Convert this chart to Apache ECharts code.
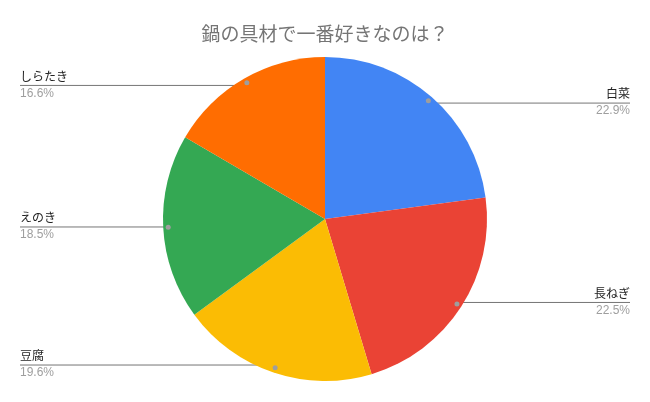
<!DOCTYPE html>
<html>
<head>
<meta charset="utf-8">
<script src="https://cdn.jsdelivr.net/npm/echarts@6/dist/echarts.min.js"></script>
<style>html,body{margin:0;padding:0;background:#fff;}#c{width:650px;height:402px;}</style>
</head>
<body>
<div id="c"></div>
<script>
const titleText = '鍋の具材で一番好きなのは？';
const categories = ['白菜', '長ねぎ', '豆腐', 'えのき', 'しらたき'];
const values = [22.9, 22.5, 19.6, 18.5, 16.6];
const colors = ['#4285F4', '#EA4335', '#FBBC04', '#34A853', '#FF6D01'];

const FONT = "'Liberation Sans', 'Noto Sans CJK JP', sans-serif";
const CENTER = [325, 219];
const R = 162;
const R_LABEL = 154;
const LEFT_EDGE = 20, RIGHT_EDGE = 630;

const data = categories.map((n, i) => ({ name: n, value: values[i] }));

const chart = echarts.init(document.getElementById('c'), null, { renderer: 'canvas' });
chart.setOption({
  animation: false,
  backgroundColor: '#fff',
  title: {
    text: titleText, left: 'center', top: 21,
    textStyle: { fontFamily: FONT, fontSize: 19, fontWeight: 'normal', color: '#757575' }
  },
  series: [
    {
      type: 'pie', center: CENTER, radius: R, startAngle: 90, clockwise: true,
      silent: true, color: colors,
      itemStyle: { borderWidth: 0 },
      label: { show: false }, labelLine: { show: false },
      data: data
    },
    {
      type: 'pie', center: CENTER, radius: R_LABEL, startAngle: 90, clockwise: true,
      silent: true, avoidLabelOverlap: false,
      itemStyle: { color: 'rgba(0,0,0,0)', borderWidth: 0 },
      label: {
        show: true, position: 'outer', alignTo: 'edge', edgeDistance: 20,
        formatter: '{n|{b}}\n{p|{c}%}',
        rich: {
          n: { fontFamily: FONT, fontSize: 12, color: '#222222', lineHeight: 16 },
          p: { fontFamily: FONT, fontSize: 12, color: '#9e9e9e', lineHeight: 16 }
        }
      },
      labelLine: { show: true, length: 0, length2: 10, lineStyle: { color: '#757575', width: 1 } },
      labelLayout: function (params) {
        const p0 = params.labelLinePoints[0];
        const right = p0[0] > CENTER[0];
        const ex = right ? RIGHT_EDGE : LEFT_EDGE;
        return {
          x: ex, y: p0[1], align: right ? 'right' : 'left', verticalAlign: 'middle',
          labelLinePoints: [[p0[0], p0[1]], [ex, p0[1]]]
        };
      },
      data: data
    },
    {
      type: 'pie', center: CENTER, radius: [0, R_LABEL * 2], startAngle: 90, clockwise: true,
      silent: true, avoidLabelOverlap: false,
      itemStyle: { color: 'rgba(0,0,0,0)', borderWidth: 0 },
      label: {
        show: true, position: 'inside', formatter: '{d| }',
        rich: { d: { width: 5, height: 5, borderRadius: 2.5, backgroundColor: '#9e9e9e', fontSize: 1, lineHeight: 5 } }
      },
      labelLine: { show: false },
      data: data
    }
  ]
});
</script>
</body>
</html>
